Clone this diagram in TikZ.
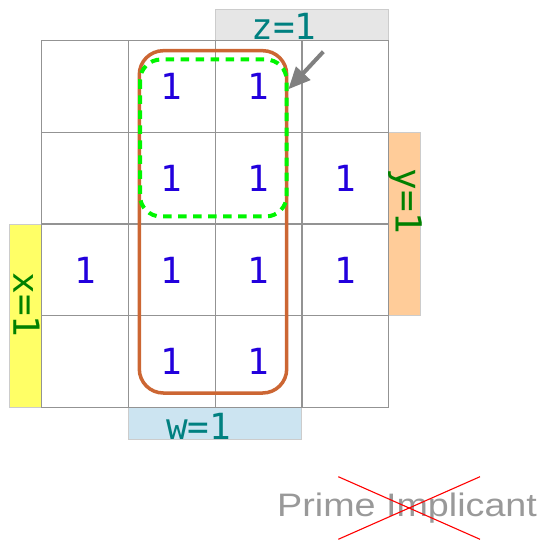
\documentclass[tikz,border=0pt]{standalone}
\usepackage{fontspec}
\setmonofont{DejaVu Sans Mono}
\newfontfamily\primefont[FakeStretch=1.16]{Liberation Sans}
\usetikzlibrary{arrows.meta}

\definecolor{cellblue}{RGB}{34,0,221}
\definecolor{labteal}{RGB}{0,128,128}
\definecolor{labgreen}{RGB}{0,128,0}
\definecolor{zgray}{RGB}{230,230,230}
\definecolor{yorange}{RGB}{255,204,153}
\definecolor{xyellow}{RGB}{255,255,102}
\definecolor{wblue}{RGB}{204,228,241}
\definecolor{loopbrown}{RGB}{204,102,51}
\definecolor{looplime}{RGB}{0,245,0}

\tikzset{
  bar/.style={draw=gray!40, line width=1pt},
  cell/.style={draw=gray!85, line width=1.2pt, minimum width=86.8pt, minimum height=91.7pt,
    inner sep=0pt, outer sep=0pt},
  one/.style={font=\ttfamily\fontsize{36}{40}\selectfont, text=cellblue, inner sep=0pt},
  toplab/.style={font=\ttfamily\fontsize{36}{40}\selectfont, text=labteal, inner sep=0pt, anchor=base},
  sidelab/.style={font=\ttfamily\fontsize{36}{40}\selectfont, text=labgreen, inner sep=0pt,
    anchor=base, rotate=-90},
  primeloop/.style={draw=loopbrown, line width=3.5pt, rounded corners=24pt},
  greenloop/.style={draw=looplime, line width=4pt, dash pattern=on 8.5pt off 6.5pt, rounded corners=21pt},
  pointer/.style={draw=gray, line width=4pt, -{Triangle[length=22pt,width=19pt]}},
}

\begin{document}
\begin{tikzpicture}[x=1pt,y=-1pt]
  \useasboundingbox (0,0) rectangle (541,540);

  % variable bars
  \draw[bar, fill=zgray] (215.1,9.3) rectangle (388.7,40.7);
  \draw[bar, fill=yorange] (388.7,132.4) rectangle (420,315.8);
  \draw[bar, fill=xyellow] (9.7,224.1) rectangle (41.5,407.5);
  \draw[bar, fill=wblue] (128.3,407.5) rectangle (301.9,439.5);

  % the map
  \foreach \r/\yc in {1/86.55, 2/178.25, 3/269.95, 4/361.65} {
    \foreach \c/\xc in {1/84.9, 2/171.7, 3/258.5, 4/345.3} {
      \node[cell] (c\r\c) at (\xc,\yc) {};
    }
  }
  \foreach \r/\c in {1/2, 1/3, 2/2, 2/3, 2/4, 3/1, 3/2, 3/3, 3/4, 4/2, 4/3}
    \node[one] (one\r\c) at (c\r\c) {1};

  % labels
  \node[toplab] (zlab) at (284,39.5) {z=1};
  \node[toplab] (wlab) at (198.8,439.3) {w=1};
  \node[sidelab] (ylab) at (395.5,201.5) {y=1};
  \node[sidelab] (xlab) at (13.3,305) {x=1};

  % loops
  \draw[primeloop] (139.3,50.7) rectangle (286.7,393);
  \draw[greenloop] (140,59.5) rectangle (286.7,216.5);

  \coordinate (arrtail) at (323.3,51.7);
  \coordinate (arrtip) at (288.3,89.3);
  \draw[pointer] (arrtail) -- (arrtip);

  % crossed out caption
  \node[font=\primefont\fontsize{32.5}{38}\selectfont, text=gray!80, inner sep=0pt, anchor=base west]
    (primetxt) at (277,516.7) {Prime Implicant};
  \coordinate (crossnw) at (338.3,476.7);
  \coordinate (crossne) at (480,476.7);
  \coordinate (crosssw) at (338.3,539.3);
  \coordinate (crossse) at (480,539.3);
  \draw[red, line width=1.1pt] (crossnw) -- (crossse) (crossne) -- (crosssw);
\end{tikzpicture}
\end{document}
